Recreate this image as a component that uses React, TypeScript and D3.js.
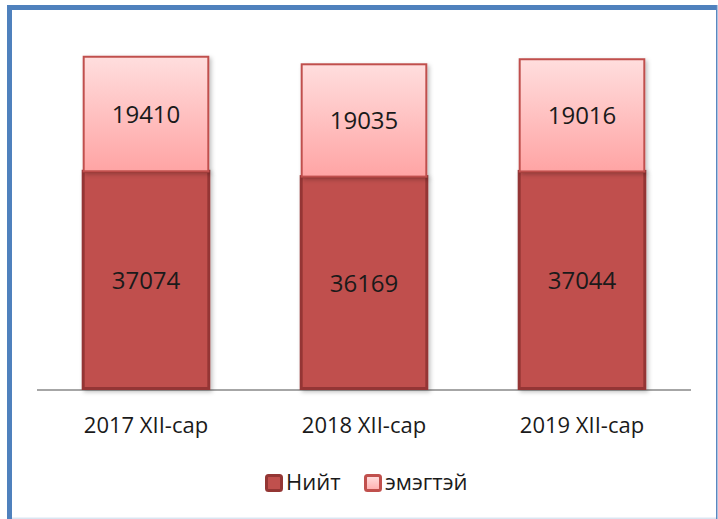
import * as d3 from "d3";
import { useEffect, useRef } from "react";

const categories = ["2017 XII-сар", "2018 XII-сар", "2019 XII-сар"];
const totalValues = [37074, 36169, 37044];
const femaleValues = [19410, 19035, 19016];
const seriesNames = ["Нийт", "эмэгтэй"];

const App = () => {
    const svgRef = useRef<SVGSVGElement | null>(null);

    const dimensions = { width: 718, height: 519 };
    const margin = { top: 36, right: 27, bottom: 129, left: 37 };
    const font = "'Open Sans', sans-serif";

    useEffect(() => {
        const svg = d3.select(svgRef.current);
        svg.selectAll("*").remove();

        const rows = categories.map((c, i) => ({
            category: c,
            total: totalValues[i],
            female: femaleValues[i],
        }));

        const xScale = d3
            .scaleBand()
            .domain(categories)
            .range([margin.left, dimensions.width - margin.right])
            .paddingInner(0.41)
            .paddingOuter(0.205);

        const yScale = d3
            .scaleLinear()
            .domain([0, 60000])
            .range([dimensions.height - margin.bottom, margin.top]);

        const defs = svg.append("defs");
        const grad = defs
            .append("linearGradient")
            .attr("id", "pinkGrad")
            .attr("x1", 0)
            .attr("y1", 0)
            .attr("x2", 0)
            .attr("y2", 1);
        grad.append("stop").attr("offset", "0%").attr("stop-color", "#ffdede");
        grad.append("stop").attr("offset", "100%").attr("stop-color", "#ffa4a4");

        const legGrad = defs
            .append("linearGradient")
            .attr("id", "legGrad")
            .attr("x1", 0)
            .attr("y1", 0)
            .attr("x2", 0)
            .attr("y2", 1);
        legGrad.append("stop").attr("offset", "0%").attr("stop-color", "#ffe0e0");
        legGrad.append("stop").attr("offset", "100%").attr("stop-color", "#ffadad");

        defs.append("filter")
            .attr("id", "shadow")
            .attr("x", "-10%")
            .attr("y", "-10%")
            .attr("width", "130%")
            .attr("height", "130%")
            .append("feDropShadow")
            .attr("dx", 2)
            .attr("dy", 2)
            .attr("stdDeviation", 2)
            .attr("flood-color", "#000")
            .attr("flood-opacity", 0.25);

        // frame
        svg.append("rect")
            .attr("x", 0)
            .attr("y", 0)
            .attr("width", dimensions.width)
            .attr("height", dimensions.height)
            .attr("fill", "#ffffff");
        svg.append("rect")
            .attr("x", 7)
            .attr("y", 5)
            .attr("width", 5)
            .attr("height", dimensions.height - 5)
            .attr("fill", "#4f81bd");
        svg.append("rect")
            .attr("x", 7)
            .attr("y", 5)
            .attr("width", dimensions.width - 8)
            .attr("height", 5)
            .attr("fill", "#4f81bd");
        svg.append("rect")
            .attr("x", dimensions.width - 2)
            .attr("y", 5)
            .attr("width", 1.5)
            .attr("height", dimensions.height - 5)
            .attr("fill", "#5b87c0");
        svg.append("rect")
            .attr("x", 12)
            .attr("y", dimensions.height - 1.5)
            .attr("width", dimensions.width - 14)
            .attr("height", 1.5)
            .attr("fill", "#dbe5f1");

        // axis baseline
        svg.append("line")
            .attr("x1", margin.left)
            .attr("x2", dimensions.width - margin.right)
            .attr("y1", yScale(0))
            .attr("y2", yScale(0))
            .attr("stroke", "#a6a6a6")
            .attr("stroke-width", 2);

        const g = svg.append("g");

        // Нийт
        g.selectAll(".bar-total")
            .data(rows)
            .join("rect")
            .attr("class", "bar-total")
            .attr("x", (d) => (xScale(d.category) as number) + 1.5)
            .attr("y", (d) => yScale(d.total))
            .attr("width", xScale.bandwidth() - 3)
            .attr("height", (d) => yScale(0) - yScale(d.total) - 1.5)
            .attr("fill", "#c0504d")
            .attr("stroke", "#943634")
            .attr("stroke-width", 3)
            .attr("filter", "url(#shadow)");

        // эмэгтэй
        g.selectAll(".bar-female")
            .data(rows)
            .join("rect")
            .attr("class", "bar-female")
            .attr("x", (d) => (xScale(d.category) as number) + 2)
            .attr("y", (d) => yScale(d.total + d.female))
            .attr("width", xScale.bandwidth() - 4)
            .attr("height", (d) => yScale(d.total) - yScale(d.total + d.female))
            .attr("fill", "url(#pinkGrad)")
            .attr("stroke", "#c0504d")
            .attr("stroke-width", 2)
            .attr("filter", "url(#shadow)");

        // value labels
        g.selectAll(".lbl-total")
            .data(rows)
            .join("text")
            .attr("x", (d) => (xScale(d.category) as number) + xScale.bandwidth() / 2)
            .attr("y", (d) => (yScale(0) + yScale(d.total)) / 2)
            .attr("dy", "0.36em")
            .attr("text-anchor", "middle")
            .attr("font-family", font)
            .attr("font-size", 24)
            .attr("fill", "#1a1a1a")
            .text((d) => d.total);

        g.selectAll(".lbl-female")
            .data(rows)
            .join("text")
            .attr("x", (d) => (xScale(d.category) as number) + xScale.bandwidth() / 2)
            .attr("y", (d) => (yScale(d.total) + yScale(d.total + d.female)) / 2)
            .attr("dy", "0.36em")
            .attr("text-anchor", "middle")
            .attr("font-family", font)
            .attr("font-size", 24)
            .attr("fill", "#1a1a1a")
            .text((d) => d.female);

        // category labels
        g.selectAll(".cat")
            .data(categories)
            .join("text")
            .attr("x", (d) => (xScale(d) as number) + xScale.bandwidth() / 2)
            .attr("y", yScale(0) + 43)
            .attr("text-anchor", "middle")
            .attr("font-family", font)
            .attr("font-size", 22)
            .attr("fill", "#1a1a1a")
            .text((d) => d);

        // legend
        const legendX = [265, 364];
        const legend = svg
            .append("g")
            .selectAll("g")
            .data(seriesNames)
            .join("g")
            .attr("transform", (_, i) => `translate(${legendX[i]}, 474)`);

        legend
            .append("rect")
            .attr("x", 1.5)
            .attr("y", 1.5)
            .attr("width", 15)
            .attr("height", 15)
            .attr("rx", 2)
            .attr("fill", (_, i) => (i === 0 ? "#c0504d" : "url(#legGrad)"))
            .attr("stroke", (_, i) => (i === 0 ? "#943634" : "#c0504d"))
            .attr("stroke-width", 3);

        legend
            .append("text")
            .attr("x", 21)
            .attr("y", 16)
            .attr("font-family", font)
            .attr("font-size", 22)
            .attr("fill", "#1a1a1a")
            .text((d) => d);
    }, []);

    return (
        <svg
            ref={svgRef}
            width={dimensions.width}
            height={dimensions.height}
            style={{ position: "absolute", left: 0, top: 0 }}
        />
    );
};

export default App;
